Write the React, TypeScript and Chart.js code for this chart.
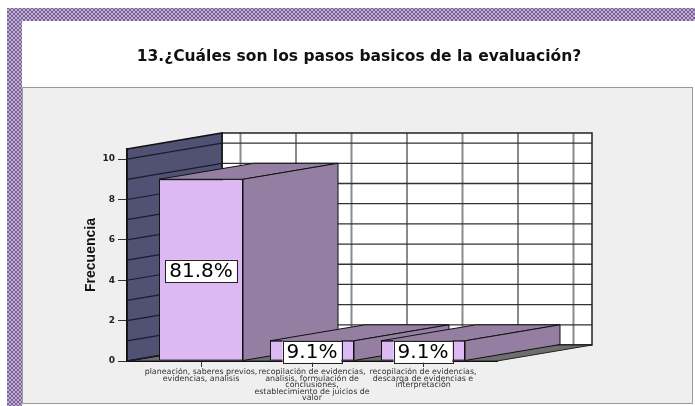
import { useEffect, useRef } from "react";
import { Chart, registerables } from "chart.js";

Chart.register(...registerables);

// ---------- data ----------
const chartTitle = "13.¿Cuáles son los pasos basicos de la evaluación?";
const yAxisTitle = "Frecuencia";
const categories: string[][] = [
  ["planeación, saberes previos,", "evidencias, analisis"],
  [
    "recopilación de evidencias,",
    "analisis, formulación de",
    "conclusiones,",
    "establecimiento de juicios de",
    "valor",
  ],
  ["recopilación de evidencias,", "descarga de evidencias e", "interpretación"],
];
const frequencies = [9, 1, 1];
const yTicks = [0, 2, 4, 6, 8, 10];
const yMax = 10.5;

// ---------- style ----------
const DEPTH = { dx: 95, dy: -16 };
const FRONT = "#ddb9f3";
const SIDE = "#947fa3";
const LEFT_WALL = "#505173";

function makePattern(ctx: CanvasRenderingContext2D) {
  const c = document.createElement("canvas");
  c.width = 4;
  c.height = 4;
  const p = c.getContext("2d")!;
  p.fillStyle = "#c2aade";
  p.fillRect(0, 0, 4, 4);
  p.strokeStyle = "#5a4a6a";
  p.lineWidth = 0.7;
  p.beginPath();
  p.moveTo(0, 0);
  p.lineTo(4, 4);
  p.moveTo(0, 4);
  p.lineTo(4, 0);
  p.stroke();
  return ctx.createPattern(c, "repeat")!;
}

function poly(ctx: CanvasRenderingContext2D, pts: number[][], fill: string | null, stroke: string | null, lw = 1) {
  ctx.beginPath();
  pts.forEach(([x, y], i) => (i ? ctx.lineTo(x, y) : ctx.moveTo(x, y)));
  ctx.closePath();
  if (fill) {
    ctx.fillStyle = fill;
    ctx.fill();
  }
  if (stroke) {
    ctx.strokeStyle = stroke;
    ctx.lineWidth = lw;
    ctx.stroke();
  }
}

const plugin3d = {
  id: "spss3d",
  beforeDraw(chart: any) {
    const { ctx, chartArea: a, scales } = chart;
    const xs = scales.x;
    const ys = scales.y;
    const { dx, dy } = DEPTH;
    ctx.save();
    // page background & frame
    ctx.fillStyle = "#ffffff";
    ctx.fillRect(0, 0, chart.width, chart.height);
    ctx.fillStyle = makePattern(ctx);
    ctx.fillRect(7, 8, chart.width - 7, 13);
    ctx.fillRect(7, 8, 15, chart.height - 8);
    ctx.fillStyle = "#efefef";
    ctx.fillRect(22, 87, 671, 317);
    ctx.strokeStyle = "#9a9a9a";
    ctx.lineWidth = 1;
    ctx.strokeRect(22.5, 87.5, 670, 316);

    // title
    ctx.fillStyle = "#111";
    ctx.font = "bold 15.5px 'DejaVu Sans'";
    ctx.textAlign = "center";
    ctx.textBaseline = "middle";
    ctx.fillText(chartTitle, 359, 57);

    // back wall
    const bl = a.left + dx, br = a.right + dx, bt = a.top + dy, bb = a.bottom + dy;
    ctx.fillStyle = "#ffffff";
    ctx.fillRect(bl, bt, br - bl, bb - bt);
    ctx.strokeStyle = "#8a8a8a";
    ctx.lineWidth = 2;
    for (let i = 0; i <= categories.length; i++) {
      for (const v of [i - 0.5, i]) {
        if (v > categories.length - 0.5) continue;
        const px = xs.getPixelForValue(v) + dx;
        ctx.beginPath();
        ctx.moveTo(px, bt);
        ctx.lineTo(px, bb);
        ctx.stroke();
      }
    }
    ctx.strokeStyle = "#333";
    ctx.lineWidth = 1.3;
    for (let v = 0; v <= Math.floor(yMax); v++) {
      const py = ys.getPixelForValue(v) + dy;
      ctx.beginPath();
      ctx.moveTo(bl, py);
      ctx.lineTo(br, py);
      ctx.stroke();
    }
    ctx.strokeStyle = "#222";
    ctx.lineWidth = 1.5;
    ctx.strokeRect(bl, bt, br - bl, bb - bt);

    // floor
    poly(ctx, [[a.left, a.bottom], [bl, bb], [br, bb], [a.right, a.bottom]], "#6e6e6e", "#222", 1);

    // left wall
    poly(ctx, [[a.left, a.top], [bl, bt], [bl, bb], [a.left, a.bottom]], LEFT_WALL, "#111", 1.5);
    ctx.strokeStyle = "#1c1c2e";
    ctx.lineWidth = 1.2;
    for (let v = 0; v <= Math.floor(yMax); v++) {
      const py = ys.getPixelForValue(v);
      ctx.beginPath();
      ctx.moveTo(a.left, py);
      ctx.lineTo(bl, py + dy);
      ctx.stroke();
    }
    ctx.restore();
  },
  beforeDatasetsDraw(chart: any) {
    const { ctx } = chart;
    const { dx, dy } = DEPTH;
    const meta = chart.getDatasetMeta(0);
    ctx.save();
    meta.data.forEach((bar: any) => {
      const w = bar.width;
      const l = bar.x - w / 2, r = bar.x + w / 2, t = bar.y, b = bar.base;
      poly(ctx, [[l, t], [r, t], [r + dx, t + dy], [l + dx, t + dy]], SIDE, "#111", 1);
      poly(ctx, [[r, t], [r + dx, t + dy], [r + dx, b + dy], [r, b]], SIDE, "#111", 1);
    });
    ctx.restore();
  },
  afterDatasetsDraw(chart: any) {
    const { ctx } = chart;
    const meta = chart.getDatasetMeta(0);
    const total = frequencies.reduce((s, v) => s + v, 0);
    ctx.save();
    ctx.font = "20px 'DejaVu Sans'";
    ctx.textAlign = "center";
    ctx.textBaseline = "middle";
    meta.data.forEach((bar: any, i: number) => {
      const txt = ((frequencies[i] / total) * 100).toFixed(1) + "%";
      const tw = ctx.measureText(txt).width;
      const cx = bar.x;
      const cy = (bar.y + bar.base) / 2 + 1;
      const bw = tw + 8, bh = 22;
      ctx.fillStyle = "#fff";
      ctx.fillRect(cx - bw / 2, cy - bh / 2, bw, bh);
      ctx.strokeStyle = "#222";
      ctx.lineWidth = 1;
      ctx.strokeRect(Math.round(cx - bw / 2) + 0.5, Math.round(cy - bh / 2) + 0.5, Math.round(bw), bh);
      ctx.fillStyle = "#000";
      ctx.fillText(txt, cx, cy + 1);
    });
    ctx.restore();
  },
};

export default function App() {
  const ref = useRef<HTMLCanvasElement>(null);
  useEffect(() => {
    const chart = new Chart(ref.current!, {
      type: "bar",
      data: {
        datasets: [
          {
            data: frequencies.map((v, i) => ({ x: i, y: v })),
            backgroundColor: FRONT,
            borderColor: "#111",
            borderWidth: 1,
            borderSkipped: false,
            barPercentage: 0.757,
            categoryPercentage: 1,
          },
        ],
      },
      options: {
        responsive: false,
        animation: false,
        layout: { padding: { left: 0, right: 198, top: 149, bottom: 0 } },
        plugins: {
          legend: { display: false },
          tooltip: { enabled: false },
          title: { display: false },
        },
        scales: {
          x: {
            type: "linear",
            min: -2 / 3,
            max: 8 / 3,
            offset: false,
            afterBuildTicks: (s: any) => {
              s.ticks = categories.map((_, i) => ({ value: i }));
            },
            afterFit: (s: any) => {
              s.height = 45;
            },
            grid: { display: true, drawOnChartArea: false, offset: false, tickLength: 6, color: "#333" },
            border: { display: true, color: "#111", width: 1 },
            ticks: {
              autoSkip: false,
              maxRotation: 0,
              minRotation: 0,
              padding: 2,
              color: "#333",
              font: { family: "'DejaVu Sans'", size: 7.9, lineHeight: 0.82 },
              callback: (v: any) => categories[v] ?? "",
            },
          },
          y: {
            min: 0,
            max: yMax,
            afterBuildTicks: (s: any) => {
              s.ticks = yTicks.map((v) => ({ value: v }));
            },
            afterFit: (s: any) => {
              s.width = 127;
            },
            grid: { display: true, drawOnChartArea: false, tickLength: 9, color: "#333" },
            border: { display: true, color: "#111", width: 1.5 },
            ticks: {
              padding: 3,
              color: "#222",
              font: { family: "'DejaVu Sans'", size: 9, weight: "bold" },
            },
            title: {
              display: true,
              text: yAxisTitle,
              color: "#111",
              font: { family: "'Liberation Sans', Arial", size: 14, weight: "bold" },
              padding: { top: 83, bottom: 0 },
            },
          },
        },
      },
      plugins: [plugin3d],
    } as any);
    return () => chart.destroy();
  }, []);
  return (
    <div style={{ position: "fixed", left: 0, top: 0, width: 695, height: 406 }}>
      <canvas ref={ref} width={695} height={406} style={{ display: "block" }} />
    </div>
  );
}
